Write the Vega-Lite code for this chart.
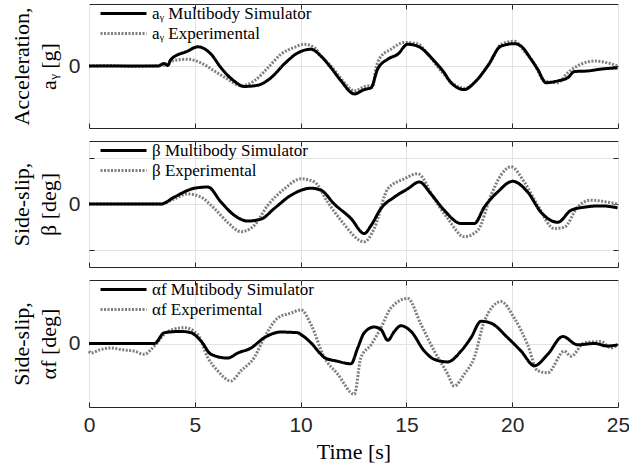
{
  "$schema": "https://vega.github.io/schema/vega-lite/v6.json",
  "padding": {"left": 9, "top": 3, "right": 0, "bottom": 0},
  "background": "white",
  "config": {
    "view": {"stroke": "#262626", "strokeWidth": 1},
    "concat": {"spacing": 11},
    "axis": {"domain": false, "gridColor": "#e3e3e3", "gridWidth": 1, "tickColor": "#262626", "tickSize": -5, "tickWidth": 1, "labelFont": "Liberation Sans", "labelFontSize": 21, "labelColor": "#262626", "titleFont": "Liberation Serif", "titleFontSize": 22, "titleFontWeight": "normal", "titleColor": "#000000"},
    "legend": {"symbolType": "M-4.6,0H4.6", "symbolSize": 100, "symbolStrokeWidth": 3, "labelFont": "Liberation Serif", "labelFontSize": 17, "labelColor": "#000000", "labelOffset": 20, "rowPadding": 2, "padding": 0, "labelLimit": 400}
  },
  "resolve": {"scale": {"color": "independent", "strokeDash": "independent"}},
  "datasets": {
    "d": [
      {"p":"a","s":"sim","t":0,"v":0},{"p":"a","s":"sim","t":3.26,"v":0},{"p":"a","s":"sim","t":3.54,"v":0.04},{"p":"a","s":"sim","t":3.72,"v":0.01},{"p":"a","s":"sim","t":3.88,"v":0.11},{"p":"a","s":"sim","t":4.66,"v":0.24},{"p":"a","s":"sim","t":5.14,"v":0.31},{"p":"a","s":"sim","t":5.77,"v":0.19},{"p":"a","s":"sim","t":6.24,"v":-0.03},{"p":"a","s":"sim","t":6.85,"v":-0.24},{"p":"a","s":"sim","t":7.33,"v":-0.33},{"p":"a","s":"sim","t":7.97,"v":-0.31},{"p":"a","s":"sim","t":8.6,"v":-0.19},{"p":"a","s":"sim","t":9.22,"v":0.03},{"p":"a","s":"sim","t":9.86,"v":0.21},{"p":"a","s":"sim","t":10.49,"v":0.27},{"p":"a","s":"sim","t":10.96,"v":0.16},{"p":"a","s":"sim","t":11.44,"v":-0.03},{"p":"a","s":"sim","t":11.91,"v":-0.24},{"p":"a","s":"sim","t":12.54,"v":-0.45},{"p":"a","s":"sim","t":13.01,"v":-0.38},{"p":"a","s":"sim","t":13.33,"v":-0.35},{"p":"a","s":"sim","t":13.64,"v":-0.05},{"p":"a","s":"sim","t":14.12,"v":0.11},{"p":"a","s":"sim","t":14.59,"v":0.19},{"p":"a","s":"sim","t":15.06,"v":0.35},{"p":"a","s":"sim","t":15.53,"v":0.32},{"p":"a","s":"sim","t":16.32,"v":0.08},{"p":"a","s":"sim","t":16.79,"v":-0.11},{"p":"a","s":"sim","t":17.11,"v":-0.27},{"p":"a","s":"sim","t":17.74,"v":-0.38},{"p":"a","s":"sim","t":18.21,"v":-0.27},{"p":"a","s":"sim","t":18.84,"v":0},{"p":"a","s":"sim","t":19.47,"v":0.32},{"p":"a","s":"sim","t":20.1,"v":0.36},{"p":"a","s":"sim","t":20.42,"v":0.32},{"p":"a","s":"sim","t":20.89,"v":0.11},{"p":"a","s":"sim","t":21.2,"v":-0.05},{"p":"a","s":"sim","t":21.6,"v":-0.27},{"p":"a","s":"sim","t":22.15,"v":-0.24},{"p":"a","s":"sim","t":22.62,"v":-0.19},{"p":"a","s":"sim","t":22.94,"v":-0.09},{"p":"a","s":"sim","t":23.57,"v":-0.08},{"p":"a","s":"sim","t":24.2,"v":-0.05},{"p":"a","s":"sim","t":24.98,"v":-0.03},
      {"p":"a","s":"exp","t":0,"v":0},{"p":"a","s":"exp","t":1,"v":0.01},{"p":"a","s":"exp","t":2,"v":-0.01},{"p":"a","s":"exp","t":3,"v":0},{"p":"a","s":"exp","t":3.5,"v":0.01},{"p":"a","s":"exp","t":3.88,"v":0.08},{"p":"a","s":"exp","t":4.66,"v":0.11},{"p":"a","s":"exp","t":5.29,"v":0.05},{"p":"a","s":"exp","t":5.92,"v":-0.08},{"p":"a","s":"exp","t":6.55,"v":-0.21},{"p":"a","s":"exp","t":7.18,"v":-0.32},{"p":"a","s":"exp","t":7.81,"v":-0.24},{"p":"a","s":"exp","t":8.45,"v":-0.03},{"p":"a","s":"exp","t":9.07,"v":0.19},{"p":"a","s":"exp","t":9.7,"v":0.3},{"p":"a","s":"exp","t":10.17,"v":0.35},{"p":"a","s":"exp","t":10.65,"v":0.3},{"p":"a","s":"exp","t":10.96,"v":0.16},{"p":"a","s":"exp","t":11.44,"v":0},{"p":"a","s":"exp","t":12.07,"v":-0.27},{"p":"a","s":"exp","t":12.54,"v":-0.4},{"p":"a","s":"exp","t":13.17,"v":-0.32},{"p":"a","s":"exp","t":13.4,"v":-0.34},{"p":"a","s":"exp","t":13.55,"v":-0.05},{"p":"a","s":"exp","t":13.75,"v":0.13},{"p":"a","s":"exp","t":14.27,"v":0.27},{"p":"a","s":"exp","t":14.9,"v":0.38},{"p":"a","s":"exp","t":15.53,"v":0.36},{"p":"a","s":"exp","t":16.01,"v":0.19},{"p":"a","s":"exp","t":16.64,"v":-0.08},{"p":"a","s":"exp","t":17.26,"v":-0.3},{"p":"a","s":"exp","t":17.74,"v":-0.36},{"p":"a","s":"exp","t":18.37,"v":-0.21},{"p":"a","s":"exp","t":19,"v":0.08},{"p":"a","s":"exp","t":19.47,"v":0.35},{"p":"a","s":"exp","t":20.1,"v":0.4},{"p":"a","s":"exp","t":20.57,"v":0.24},{"p":"a","s":"exp","t":21.05,"v":0.03},{"p":"a","s":"exp","t":21.52,"v":-0.24},{"p":"a","s":"exp","t":22.15,"v":-0.27},{"p":"a","s":"exp","t":22.62,"v":-0.11},{"p":"a","s":"exp","t":23.25,"v":0.03},{"p":"a","s":"exp","t":23.88,"v":0.08},{"p":"a","s":"exp","t":24.51,"v":0.05},{"p":"a","s":"exp","t":24.98,"v":0},
      {"p":"b","s":"sim","t":0,"v":0},{"p":"b","s":"sim","t":3.4,"v":0},{"p":"b","s":"sim","t":4.03,"v":0.11},{"p":"b","s":"sim","t":4.98,"v":0.25},{"p":"b","s":"sim","t":5.61,"v":0.27},{"p":"b","s":"sim","t":6.24,"v":0.03},{"p":"b","s":"sim","t":6.87,"v":-0.18},{"p":"b","s":"sim","t":7.5,"v":-0.27},{"p":"b","s":"sim","t":8.13,"v":-0.24},{"p":"b","s":"sim","t":8.76,"v":-0.07},{"p":"b","s":"sim","t":9.55,"v":0.14},{"p":"b","s":"sim","t":10.49,"v":0.25},{"p":"b","s":"sim","t":10.96,"v":0.22},{"p":"b","s":"sim","t":11.59,"v":0},{"p":"b","s":"sim","t":12.38,"v":-0.23},{"p":"b","s":"sim","t":13.01,"v":-0.47},{"p":"b","s":"sim","t":13.33,"v":-0.34},{"p":"b","s":"sim","t":13.8,"v":-0.07},{"p":"b","s":"sim","t":14.43,"v":0.11},{"p":"b","s":"sim","t":15.06,"v":0.24},{"p":"b","s":"sim","t":15.61,"v":0.35},{"p":"b","s":"sim","t":16.16,"v":0.16},{"p":"b","s":"sim","t":16.79,"v":-0.1},{"p":"b","s":"sim","t":17.58,"v":-0.31},{"p":"b","s":"sim","t":18.21,"v":-0.31},{"p":"b","s":"sim","t":18.68,"v":-0.05},{"p":"b","s":"sim","t":19.31,"v":0.19},{"p":"b","s":"sim","t":20.02,"v":0.36},{"p":"b","s":"sim","t":20.73,"v":0.19},{"p":"b","s":"sim","t":21.36,"v":-0.13},{"p":"b","s":"sim","t":22.15,"v":-0.29},{"p":"b","s":"sim","t":22.78,"v":-0.1},{"p":"b","s":"sim","t":23.41,"v":-0.05},{"p":"b","s":"sim","t":24.2,"v":-0.03},{"p":"b","s":"sim","t":24.98,"v":-0.06},
      {"p":"b","s":"exp","t":0,"v":0},{"p":"b","s":"exp","t":3.4,"v":0},{"p":"b","s":"exp","t":4.03,"v":0.08},{"p":"b","s":"exp","t":4.66,"v":0.16},{"p":"b","s":"exp","t":5.29,"v":0.11},{"p":"b","s":"exp","t":5.92,"v":-0.07},{"p":"b","s":"exp","t":6.55,"v":-0.29},{"p":"b","s":"exp","t":7.18,"v":-0.44},{"p":"b","s":"exp","t":7.81,"v":-0.34},{"p":"b","s":"exp","t":8.45,"v":-0.02},{"p":"b","s":"exp","t":9.23,"v":0.24},{"p":"b","s":"exp","t":10.02,"v":0.4},{"p":"b","s":"exp","t":10.65,"v":0.35},{"p":"b","s":"exp","t":11.28,"v":0.03},{"p":"b","s":"exp","t":11.91,"v":-0.26},{"p":"b","s":"exp","t":13.01,"v":-0.6},{"p":"b","s":"exp","t":13.48,"v":-0.39},{"p":"b","s":"exp","t":14.12,"v":0.24},{"p":"b","s":"exp","t":14.9,"v":0.4},{"p":"b","s":"exp","t":15.53,"v":0.48},{"p":"b","s":"exp","t":16.32,"v":0.08},{"p":"b","s":"exp","t":16.95,"v":-0.23},{"p":"b","s":"exp","t":17.74,"v":-0.52},{"p":"b","s":"exp","t":18.37,"v":-0.42},{"p":"b","s":"exp","t":19,"v":0.14},{"p":"b","s":"exp","t":19.47,"v":0.46},{"p":"b","s":"exp","t":19.94,"v":0.59},{"p":"b","s":"exp","t":20.57,"v":0.35},{"p":"b","s":"exp","t":21.2,"v":-0.02},{"p":"b","s":"exp","t":21.99,"v":-0.39},{"p":"b","s":"exp","t":22.46,"v":-0.37},{"p":"b","s":"exp","t":23.09,"v":-0.05},{"p":"b","s":"exp","t":23.72,"v":0.06},{"p":"b","s":"exp","t":24.51,"v":0.03},{"p":"b","s":"exp","t":24.98,"v":0},
      {"p":"c","s":"sim","t":0,"v":0},{"p":"c","s":"sim","t":3.09,"v":0},{"p":"c","s":"sim","t":3.56,"v":0.17},{"p":"c","s":"sim","t":4.35,"v":0.19},{"p":"c","s":"sim","t":4.82,"v":0.17},{"p":"c","s":"sim","t":5.29,"v":0.04},{"p":"c","s":"sim","t":5.77,"v":-0.17},{"p":"c","s":"sim","t":6.55,"v":-0.23},{"p":"c","s":"sim","t":7.03,"v":-0.15},{"p":"c","s":"sim","t":7.66,"v":-0.07},{"p":"c","s":"sim","t":8.28,"v":0.09},{"p":"c","s":"sim","t":9.07,"v":0.18},{"p":"c","s":"sim","t":9.86,"v":0.17},{"p":"c","s":"sim","t":10.02,"v":0.14},{"p":"c","s":"sim","t":10.49,"v":0.01},{"p":"c","s":"sim","t":10.96,"v":-0.17},{"p":"c","s":"sim","t":11.12,"v":-0.22},{"p":"c","s":"sim","t":11.75,"v":-0.28},{"p":"c","s":"sim","t":12.38,"v":-0.32},{"p":"c","s":"sim","t":12.7,"v":-0.07},{"p":"c","s":"sim","t":13.01,"v":0.17},{"p":"c","s":"sim","t":13.48,"v":0.26},{"p":"c","s":"sim","t":13.8,"v":0.22},{"p":"c","s":"sim","t":14.12,"v":0.05},{"p":"c","s":"sim","t":14.43,"v":0.19},{"p":"c","s":"sim","t":14.74,"v":0.28},{"p":"c","s":"sim","t":15.22,"v":0.19},{"p":"c","s":"sim","t":15.85,"v":-0.12},{"p":"c","s":"sim","t":16.32,"v":-0.25},{"p":"c","s":"sim","t":16.95,"v":-0.29},{"p":"c","s":"sim","t":17.58,"v":-0.12},{"p":"c","s":"sim","t":18.05,"v":0.09},{"p":"c","s":"sim","t":18.53,"v":0.35},{"p":"c","s":"sim","t":19,"v":0.32},{"p":"c","s":"sim","t":19.79,"v":0.09},{"p":"c","s":"sim","t":20.42,"v":-0.12},{"p":"c","s":"sim","t":21.05,"v":-0.35},{"p":"c","s":"sim","t":21.68,"v":-0.17},{"p":"c","s":"sim","t":22.39,"v":0.11},{"p":"c","s":"sim","t":23.09,"v":-0.02},{"p":"c","s":"sim","t":23.88,"v":0},{"p":"c","s":"sim","t":24.51,"v":-0.04},{"p":"c","s":"sim","t":24.98,"v":-0.02},
      {"p":"c","s":"exp","t":0,"v":-0.12},{"p":"c","s":"exp","t":0.09,"v":-0.15},{"p":"c","s":"exp","t":0.5,"v":-0.1},{"p":"c","s":"exp","t":1.04,"v":-0.07},{"p":"c","s":"exp","t":1.6,"v":-0.1},{"p":"c","s":"exp","t":2.14,"v":-0.12},{"p":"c","s":"exp","t":2.61,"v":-0.17},{"p":"c","s":"exp","t":3.09,"v":-0.04},{"p":"c","s":"exp","t":3.72,"v":0.19},{"p":"c","s":"exp","t":4.5,"v":0.25},{"p":"c","s":"exp","t":5.14,"v":0.14},{"p":"c","s":"exp","t":5.61,"v":-0.22},{"p":"c","s":"exp","t":6.08,"v":-0.43},{"p":"c","s":"exp","t":6.71,"v":-0.59},{"p":"c","s":"exp","t":7.18,"v":-0.43},{"p":"c","s":"exp","t":7.81,"v":-0.22},{"p":"c","s":"exp","t":8.28,"v":0.09},{"p":"c","s":"exp","t":8.92,"v":0.4},{"p":"c","s":"exp","t":9.55,"v":0.48},{"p":"c","s":"exp","t":10.02,"v":0.53},{"p":"c","s":"exp","t":10.49,"v":0.3},{"p":"c","s":"exp","t":11.12,"v":-0.22},{"p":"c","s":"exp","t":11.75,"v":-0.48},{"p":"c","s":"exp","t":12.54,"v":-0.8},{"p":"c","s":"exp","t":12.85,"v":-0.22},{"p":"c","s":"exp","t":13.33,"v":-0.02},{"p":"c","s":"exp","t":13.8,"v":0.25},{"p":"c","s":"exp","t":14.27,"v":0.56},{"p":"c","s":"exp","t":15.06,"v":0.71},{"p":"c","s":"exp","t":15.69,"v":0.3},{"p":"c","s":"exp","t":16.32,"v":-0.12},{"p":"c","s":"exp","t":16.95,"v":-0.48},{"p":"c","s":"exp","t":17.26,"v":-0.67},{"p":"c","s":"exp","t":17.74,"v":-0.48},{"p":"c","s":"exp","t":18.21,"v":-0.22},{"p":"c","s":"exp","t":18.68,"v":0.35},{"p":"c","s":"exp","t":19.47,"v":0.66},{"p":"c","s":"exp","t":20.1,"v":0.4},{"p":"c","s":"exp","t":20.73,"v":-0.02},{"p":"c","s":"exp","t":21.2,"v":-0.43},{"p":"c","s":"exp","t":21.68,"v":-0.46},{"p":"c","s":"exp","t":22.46,"v":-0.12},{"p":"c","s":"exp","t":22.78,"v":-0.2},{"p":"c","s":"exp","t":23.41,"v":0.01},{"p":"c","s":"exp","t":24.2,"v":0.03},{"p":"c","s":"exp","t":24.67,"v":-0.07},{"p":"c","s":"exp","t":24.98,"v":-0.02}
    ]
  },
  "vconcat": [
    {
      "width": 529, "height": 124,
      "data": {"name": "d"},
      "transform": [{"filter": "datum.p == 'a'"}],
      "resolve": {"axis": {"x": "independent", "y": "independent"}},
      "layer": [
        {
          "transform": [{"filter": "datum.s == 'exp'"}],
          "mark": {"type": "line", "strokeWidth": 3, "interpolate": "monotone"},
          "encoding": {
            "x": {"field": "t", "type": "quantitative", "scale": {"domain": [0, 25], "nice": false}, "axis": {"orient": "top", "labels": false, "title": null, "grid": false, "values": [5, 10, 15, 20], "minExtent": 0, "maxExtent": 0}},
            "y": {"field": "v", "type": "quantitative", "scale": {"domain": [-1, 1], "nice": false}, "axis": {"orient": "right", "labels": false, "title": null, "grid": false, "values": [0], "minExtent": 0, "maxExtent": 0}},
            "color": {"field": "s", "type": "nominal", "scale": {"domain": ["sim", "exp"], "range": ["#000000", "#7f7f7f"]}, "legend": {"title": null, "orient": "none", "legendX": 26, "legendY": 1, "labelFont": "Liberation Serif", "labelFontSize": 17, "labelExpr": "datum.label == 'sim' ? 'aᵧ Multibody Simulator' : 'aᵧ Experimental'"}},
            "strokeDash": {"field": "s", "type": "nominal", "scale": {"domain": ["sim", "exp"], "range": [[1, 0], [2, 1.5]]}, "legend": {"title": null, "orient": "none", "legendX": 26, "legendY": 1, "labelFont": "Liberation Serif", "labelFontSize": 17, "labelExpr": "datum.label == 'sim' ? 'aᵧ Multibody Simulator' : 'aᵧ Experimental'"}}
          }
        },
        {
          "transform": [{"filter": "datum.s == 'sim'"}],
          "mark": {"type": "line", "strokeWidth": 3, "interpolate": "monotone"},
          "encoding": {
            "x": {"field": "t", "type": "quantitative", "scale": {"domain": [0, 25], "nice": false}, "axis": {"orient": "bottom", "labels": false, "title": null, "grid": true, "values": [0, 5, 10, 15, 20, 25], "minExtent": 0, "maxExtent": 0}},
            "y": {"field": "v", "type": "quantitative", "scale": {"domain": [-1, 1], "nice": false}, "axis": {"orient": "left", "grid": true, "values": [0], "labelExpr": "datum.value == 0 ? '0' : ''", "labelPadding": 14, "minExtent": 20, "maxExtent": 20, "titlePadding": 9, "titleLineHeight": 27, "title": ["Acceleration,", "aᵧ [g]"]}},
            "color": {"field": "s", "type": "nominal", "scale": {"domain": ["sim", "exp"], "range": ["#000000", "#7f7f7f"]}, "legend": {"title": null, "orient": "none", "legendX": 26, "legendY": 1, "labelFont": "Liberation Serif", "labelFontSize": 17, "labelExpr": "datum.label == 'sim' ? 'aᵧ Multibody Simulator' : 'aᵧ Experimental'"}},
            "strokeDash": {"field": "s", "type": "nominal", "scale": {"domain": ["sim", "exp"], "range": [[1, 0], [2, 1.5]]}, "legend": {"title": null, "orient": "none", "legendX": 26, "legendY": 1, "labelFont": "Liberation Serif", "labelFontSize": 17, "labelExpr": "datum.label == 'sim' ? 'aᵧ Multibody Simulator' : 'aᵧ Experimental'"}}
          }
        }
      ]
    },
    {
      "width": 529, "height": 126,
      "data": {"name": "d"},
      "transform": [{"filter": "datum.p == 'b'"}],
      "resolve": {"axis": {"x": "independent", "y": "independent"}},
      "layer": [
        {
          "transform": [{"filter": "datum.s == 'exp'"}],
          "mark": {"type": "line", "strokeWidth": 3, "interpolate": "monotone"},
          "encoding": {
            "x": {"field": "t", "type": "quantitative", "scale": {"domain": [0, 25], "nice": false}, "axis": {"orient": "top", "labels": false, "title": null, "grid": false, "values": [5, 10, 15, 20], "minExtent": 0, "maxExtent": 0}},
            "y": {"field": "v", "type": "quantitative", "scale": {"domain": [-1, 1], "nice": false}, "axis": {"orient": "right", "labels": false, "title": null, "grid": false, "values": [-0.73, 0, 0.73], "minExtent": 0, "maxExtent": 0}},
            "color": {"field": "s", "type": "nominal", "scale": {"domain": ["sim", "exp"], "range": ["#000000", "#7f7f7f"]}, "legend": {"title": null, "orient": "none", "legendX": 26, "legendY": 1, "labelFont": "Liberation Serif", "labelFontSize": 17, "labelExpr": "datum.label == 'sim' ? 'β Multibody Simulator' : 'β Experimental'"}},
            "strokeDash": {"field": "s", "type": "nominal", "scale": {"domain": ["sim", "exp"], "range": [[1, 0], [2, 1.5]]}, "legend": {"title": null, "orient": "none", "legendX": 26, "legendY": 1, "labelFont": "Liberation Serif", "labelFontSize": 17, "labelExpr": "datum.label == 'sim' ? 'β Multibody Simulator' : 'β Experimental'"}}
          }
        },
        {
          "transform": [{"filter": "datum.s == 'sim'"}],
          "mark": {"type": "line", "strokeWidth": 3, "interpolate": "monotone"},
          "encoding": {
            "x": {"field": "t", "type": "quantitative", "scale": {"domain": [0, 25], "nice": false}, "axis": {"orient": "bottom", "labels": false, "title": null, "grid": true, "values": [0, 5, 10, 15, 20, 25], "minExtent": 0, "maxExtent": 0}},
            "y": {"field": "v", "type": "quantitative", "scale": {"domain": [-1, 1], "nice": false}, "axis": {"orient": "left", "grid": true, "values": [-0.73, 0, 0.73], "labelExpr": "datum.value == 0 ? '0' : ''", "labelPadding": 14, "minExtent": 20, "maxExtent": 20, "titlePadding": 9, "titleLineHeight": 27, "title": ["Side-slip,", "β [deg]"]}},
            "color": {"field": "s", "type": "nominal", "scale": {"domain": ["sim", "exp"], "range": ["#000000", "#7f7f7f"]}, "legend": {"title": null, "orient": "none", "legendX": 26, "legendY": 1, "labelFont": "Liberation Serif", "labelFontSize": 17, "labelExpr": "datum.label == 'sim' ? 'β Multibody Simulator' : 'β Experimental'"}},
            "strokeDash": {"field": "s", "type": "nominal", "scale": {"domain": ["sim", "exp"], "range": [[1, 0], [2, 1.5]]}, "legend": {"title": null, "orient": "none", "legendX": 26, "legendY": 1, "labelFont": "Liberation Serif", "labelFontSize": 17, "labelExpr": "datum.label == 'sim' ? 'β Multibody Simulator' : 'β Experimental'"}}
          }
        }
      ]
    },
    {
      "width": 529, "height": 127,
      "data": {"name": "d"},
      "transform": [{"filter": "datum.p == 'c'"}],
      "resolve": {"axis": {"x": "independent", "y": "independent"}},
      "layer": [
        {
          "transform": [{"filter": "datum.s == 'exp'"}],
          "mark": {"type": "line", "strokeWidth": 3, "interpolate": "monotone"},
          "encoding": {
            "x": {"field": "t", "type": "quantitative", "scale": {"domain": [0, 25], "nice": false}, "axis": {"orient": "top", "labels": false, "title": null, "grid": false, "values": [5, 10, 15, 20], "minExtent": 0, "maxExtent": 0}},
            "y": {"field": "v", "type": "quantitative", "scale": {"domain": [-1, 1], "nice": false}, "axis": {"orient": "right", "labels": false, "title": null, "grid": false, "values": [0], "minExtent": 0, "maxExtent": 0}},
            "color": {"field": "s", "type": "nominal", "scale": {"domain": ["sim", "exp"], "range": ["#000000", "#7f7f7f"]}, "legend": {"title": null, "orient": "none", "legendX": 26, "legendY": 1, "labelFont": "Liberation Serif", "labelFontSize": 17, "labelExpr": "datum.label == 'sim' ? 'αf Multibody Simulator' : 'αf Experimental'"}},
            "strokeDash": {"field": "s", "type": "nominal", "scale": {"domain": ["sim", "exp"], "range": [[1, 0], [2, 1.5]]}, "legend": {"title": null, "orient": "none", "legendX": 26, "legendY": 1, "labelFont": "Liberation Serif", "labelFontSize": 17, "labelExpr": "datum.label == 'sim' ? 'αf Multibody Simulator' : 'αf Experimental'"}}
          }
        },
        {
          "transform": [{"filter": "datum.s == 'sim'"}],
          "mark": {"type": "line", "strokeWidth": 3, "interpolate": "monotone"},
          "encoding": {
            "x": {"field": "t", "type": "quantitative", "scale": {"domain": [0, 25], "nice": false}, "axis": {"orient": "bottom", "labels": true, "labelFlush": false, "title": "Time [s]", "grid": true, "values": [0, 5, 10, 15, 20, 25], "labelPadding": 12, "titlePadding": 6}},
            "y": {"field": "v", "type": "quantitative", "scale": {"domain": [-1, 1], "nice": false}, "axis": {"orient": "left", "grid": true, "values": [0], "labelExpr": "datum.value == 0 ? '0' : ''", "labelPadding": 14, "minExtent": 20, "maxExtent": 20, "titlePadding": 9, "titleLineHeight": 27, "title": ["Side-slip,", "αf [deg]"]}},
            "color": {"field": "s", "type": "nominal", "scale": {"domain": ["sim", "exp"], "range": ["#000000", "#7f7f7f"]}, "legend": {"title": null, "orient": "none", "legendX": 26, "legendY": 1, "labelFont": "Liberation Serif", "labelFontSize": 17, "labelExpr": "datum.label == 'sim' ? 'αf Multibody Simulator' : 'αf Experimental'"}},
            "strokeDash": {"field": "s", "type": "nominal", "scale": {"domain": ["sim", "exp"], "range": [[1, 0], [2, 1.5]]}, "legend": {"title": null, "orient": "none", "legendX": 26, "legendY": 1, "labelFont": "Liberation Serif", "labelFontSize": 17, "labelExpr": "datum.label == 'sim' ? 'αf Multibody Simulator' : 'αf Experimental'"}}
          }
        }
      ]
    }
  ]
}
